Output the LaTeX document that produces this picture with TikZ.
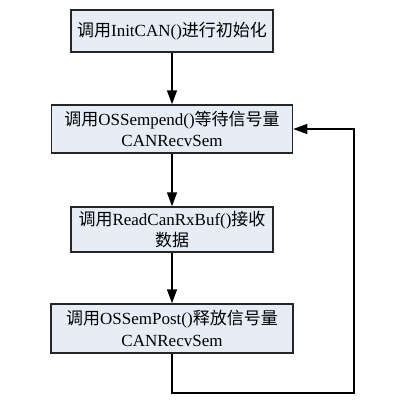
\documentclass[tikz,border=0pt]{standalone}
\usepackage{fontspec}
\setmainfont{Liberation Serif}
\newfontfamily\cjk{Noto Sans CJK SC}
\usetikzlibrary{arrows.meta}
\newcommand{\zh}[1]{{\cjk #1}}
\begin{document}
\begin{tikzpicture}[x=1pt,y=-1pt,
  procbox/.style={draw=black!85, line width=1.5pt, fill={rgb,255:red,230;green,237;blue,247}, align=center, inner sep=0pt, font=\fontsize{17}{21.5}\selectfont},
  flow/.style={draw=black, line width=1.5pt, -{Triangle[length=14pt,width=10pt]}}]
\useasboundingbox (0,0) rectangle (406,400);
\node[procbox, minimum width=202pt, minimum height=42pt] (b1) at (172,31) {\zh{调用}InitCAN()\zh{进行初始化}};
\node[procbox, minimum width=241pt, minimum height=48pt] (b2) at (172,129) {\zh{调用}OSSempend()\zh{等待信号量}\\CANRecvSem};
\node[procbox, minimum width=202pt, minimum height=45pt] (b3) at (172,229.5) {\zh{调用}ReadCanRxBuf()\zh{接收}\\\zh{数据}};
\node[procbox, minimum width=242pt, minimum height=49pt] (b4) at (172,328.5) {\zh{调用}OSSemPost()\zh{释放信号量}\\CANRecvSem};
\coordinate (c1) at (172,393);
\coordinate (c2) at (354,393);
\coordinate (c3) at (354,129);
\draw[flow] (b1) -- (b2);
\draw[flow] (b2) -- (b3);
\draw[flow] (b3) -- (b4);
\draw[flow] (b4.south) -- (c1) -- (c2) -- (c3) -- (b2.east);
\end{tikzpicture}
\end{document}
